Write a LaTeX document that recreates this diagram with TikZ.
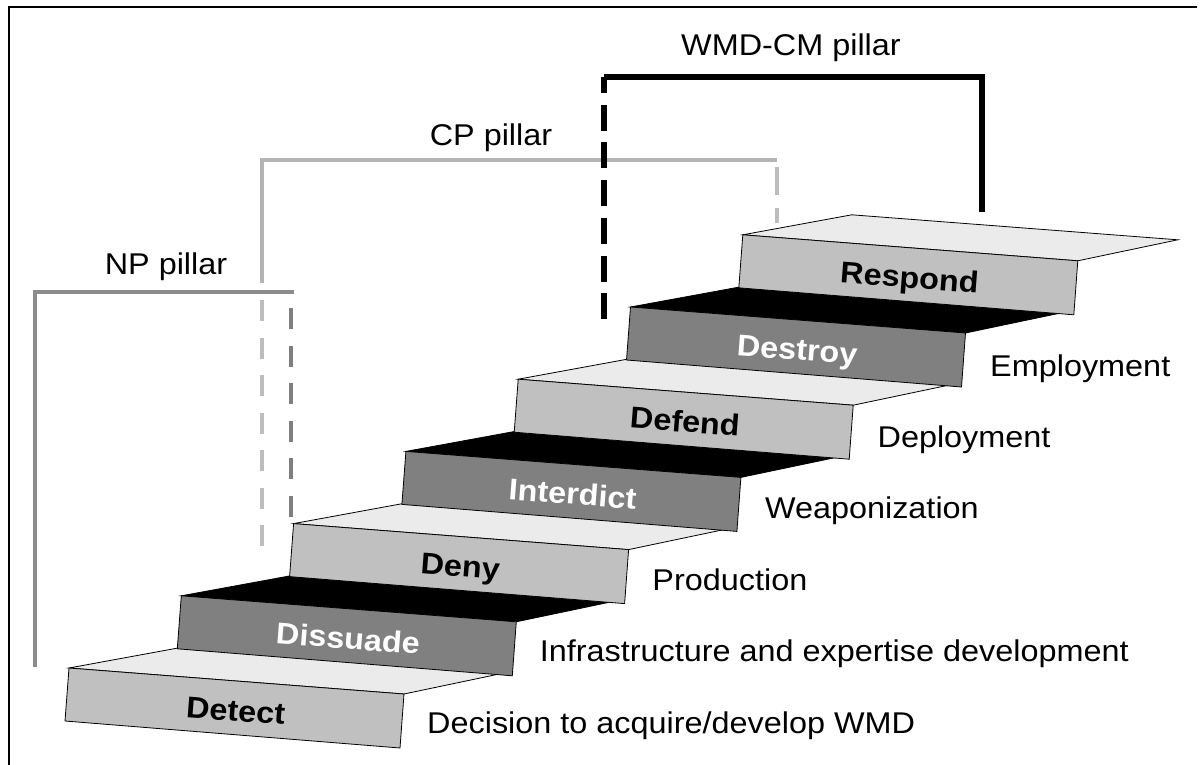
\documentclass[tikz,border=0pt]{standalone}
\usepackage{fontspec}
\setmainfont[FakeStretch=1.08]{Liberation Sans}
\usepackage{tikz}
\usetikzlibrary{calc}

\definecolor{riserlight}{HTML}{C0C0C0}
\definecolor{riserdark}{HTML}{808080}
\definecolor{treadlight}{HTML}{EBEBEB}
\definecolor{npgray}{HTML}{8C8C8C}
\definecolor{npdash}{HTML}{7F7F7F}
\definecolor{cpgray}{HTML}{B4B4B4}
\definecolor{cpdash}{HTML}{BDBDBD}

\newcommand{\txtfont}{\fontsize{30}{36}\selectfont}
\newcommand{\stepfont}{\fontsize{30}{36}\selectfont\bfseries}

\begin{document}
\begin{tikzpicture}[
            x=1pt, y=-1pt,
            face/.style={
                draw=black,
                line width=0.8pt,
                line join=miter
            },
            steplabel/.style={
                font=\stepfont,
                rotate=-4.4,
                anchor=base,
                inner sep=0pt
            },
            phase/.style={
                font=\txtfont,
                anchor=base west,
                inner sep=0pt
            },
            pillarname/.style={
                font=\txtfont,
                anchor=base,
                inner sep=0pt
            },
            npline/.style={draw=npgray, line width=4.5pt},
            cpline/.style={draw=cpgray, line width=4.5pt},
            cmline/.style={draw=black, line width=5.5pt},
            pdash/.style={dash pattern=on 21pt off 16.5pt}
            ]

            \useasboundingbox (0,0) rectangle (1204,765);

            % frame (top and left edges only)
            \draw[line width=2pt] (9,765) -- (9,7) -- (1197,7);

            % the staircase, bottom step first
            \foreach \i/\name/\riser/\tread/\ink in {
                0/Detect/riserlight/treadlight/black,
                1/Dissuade/riserdark/black/white,
                2/Deny/riserlight/treadlight/black,
                3/Interdict/riserdark/black/white,
                4/Defend/riserlight/treadlight/black,
                5/Destroy/riserdark/black/white,
                6/Respond/riserlight/treadlight/black} {
                \coordinate (tl\i) at ({69+112.3*\i}, {668-72.2*\i});
                \filldraw[face, fill=\tread]
                (tl\i) -- ++(109,-20) -- ($(tl\i)+(435,5)$)
                -- ($(tl\i)+(335,26)$) -- cycle;
                \filldraw[face, fill=\riser]
                (tl\i) -- ++(335,26) -- ++(-4,54) -- ++(-335,-27) -- cycle;
                \node[steplabel, text=\ink] (\name) at ($(tl\i)+(166,53)$) {\name};
            }

            % stage of the programme beside each step
            \foreach \i/\stage in {
                0/{Decision to acquire/develop WMD},
                1/{Infrastructure and expertise development},
                2/{Production},
                3/{Weaponization},
                4/{Deployment},
                5/{Employment}} {
                \node[phase] (stage\i) at ({427+112.6*\i}, {733-71.4*\i}) {\stage};
            }

            % pillars
            \coordinate (np foot) at (35,667);
            \coordinate (np end) at (294,292);
            \coordinate (cp foot) at (262,283);
            \coordinate (cp end) at (777,160);
            \coordinate (cm start) at (604,77);
            \coordinate (cm end) at (982,212);

            \draw[npline] (np foot) |- (np end);
            \draw[npline, draw=npdash, pdash] (291,308) -- (291,518);

            \draw[cpline] (cp foot) |- (cp end);
            \draw[cpline, draw=cpdash, pdash] (262,300) -- (262,548);
            \draw[cpline, draw=cpdash, dash pattern=on 28pt off 13pt]
            (777,167) -- (777,223);

            \draw[cmline] (cm start) -| (cm end);
            \draw[cmline, dash pattern=on 26pt off 11.7pt, dash phase=10pt]
            (604,77) -- (604,319);

            \node[pillarname] (np) at (166,274) {NP pillar};
            \node[pillarname] (cp) at (491,146) {CP pillar};
            \node[pillarname] (cm) at (791,56) {WMD-CM pillar};

        \end{tikzpicture}
\end{document}
